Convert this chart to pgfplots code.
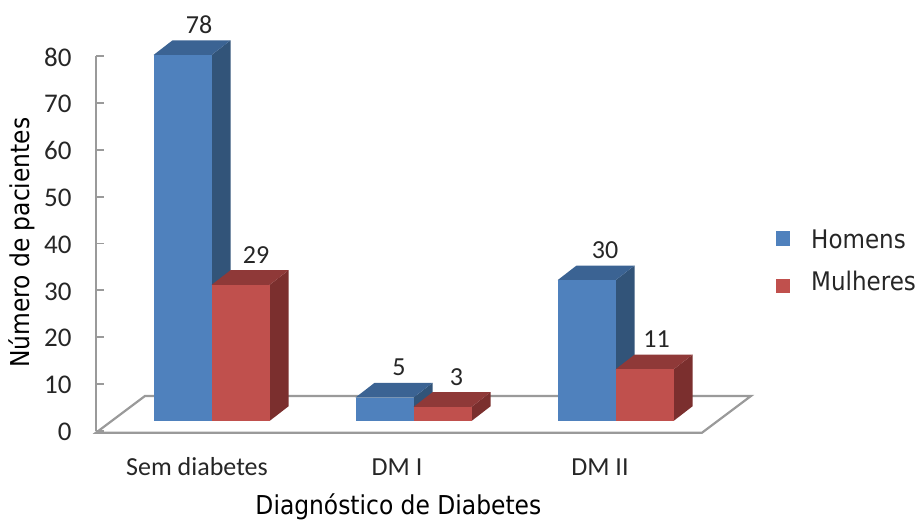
\documentclass[border=0pt]{standalone}
\usepackage{fontspec}
\usepackage{pgfplots}
\pgfplotsset{compat=1.18}
\setmainfont{Carlito}
\newfontfamily\tah{DejaVu Sans Condensed}
\definecolor{hfront}{HTML}{4F81BD}
\definecolor{hside}{HTML}{325479}
\definecolor{htop}{HTML}{3B6393}
\definecolor{mfront}{HTML}{C0504D}
\definecolor{mside}{HTML}{7B2F2E}
\definecolor{mtop}{HTML}{8F3938}
\definecolor{axisgray}{HTML}{9A9A9A}
\definecolor{txt}{HTML}{262626}

% One 3D bar: left edge, value, colour prefix, x of the value label
\newcommand\barthreed[4]{%
  \pgfmathsetmacro\xr{#1+58}%
  \pgfmathsetmacro\xd{#1+58+19}%
  \pgfmathsetmacro\xb{#1+19}%
  \pgfmathsetmacro\xc{#1+29}%
  \pgfmathsetmacro\vb{#2+3.13}%
  \pgfmathsetmacro\vl{#2+6.4}%
  \edef\temp{%
    \noexpand\addplot[fill=#3side,draw=none] coordinates {(\xr,0) (\xd,3.13) (\xd,\vb) (\xr,#2)} --cycle;
    \noexpand\addplot[fill=#3top,draw=none] coordinates {(#1,#2) (\xb,\vb) (\xd,\vb) (\xr,#2)} --cycle;
    \noexpand\addplot[ybar,bar width=58pt,bar shift=0pt,fill=#3front,draw=none] coordinates {(\xc,#2)};
    \noexpand\node[font=\noexpand\fontsize{26}{30}\noexpand\selectfont,text=txt] at (axis cs:#4,\vl) {#2};
  }\temp}

\begin{document}
\begin{tikzpicture}[x=1pt,y=1pt]
\path[use as bounding box] (0,0) rectangle (919,520);

% Value axis, category labels and axis titles
\begin{axis}[
  at={(96pt,89pt)},anchor=south west,
  scale only axis,width=606pt,height=375pt,
  xmin=96,xmax=702,ymin=0,ymax=80,
  axis y line*=left,axis x line*=bottom,
  axis line style={axisgray,line width=2.2pt,-},
  x axis line style={draw=none},
  ytick={0,10,...,80},
  y tick style={axisgray,line width=1.8pt},
  major tick length=8pt,
  xtick={197,397,600},
  xticklabels={Sem diabetes,DM I,DM II},
  x tick style={draw=none},
  /pgf/number format/assume math mode=true,
  yticklabel style={font=\fontsize{27}{30}\selectfont,text=txt,xshift=-21pt,yshift=-1pt},
  xticklabel style={font=\fontsize{26}{30}\selectfont,text=txt,anchor=center,yshift=-36pt},
  xlabel={Diagnóstico de Diabetes},
  xlabel style={font=\tah\fontsize{26}{30}\selectfont,at={(axis description cs:0.499,-0.2025)},anchor=center},
  ylabel={Número de pacientes},
  ylabel style={font=\tah\fontsize{26}{30}\selectfont,at={(axis description cs:-0.1218,0.502)},anchor=center},
]
\end{axis}

% Floor and bars on a canvas measured in the bars' own values
\begin{axis}[
  at={(0pt,0pt)},anchor=south west,
  scale only axis,width=919pt,height=520pt,
  xmin=0,xmax=919,ymin=-21.1,ymax=89.73,
  hide axis,clip=false,
  legend style={at={(776pt,290pt)},anchor=north west,draw=none,fill=none,inner sep=0pt,
    font=\tah\fontsize{25.6}{30}\selectfont,text=txt,row sep=21pt,
    legend cell align=left,
    nodes={inner xsep=0pt,inner ysep=0pt}},
]
\addplot[draw=axisgray,line width=2.2pt,fill=none,forget plot] coordinates {(96,-2.5) (702,-2.5) (751,5.33) (145,5.33)} --cycle;

\addlegendimage{legend image code/.code={\fill[hfront,draw=none] (0pt,-6pt) rectangle (14pt,9pt);\path[draw=none] (14pt,0) -- (35pt,0);}}
\addlegendentry{Homens}
\addlegendimage{legend image code/.code={\fill[mfront,draw=none] (0pt,-11pt) rectangle (14pt,3pt);\path[draw=none] (14pt,0) -- (35pt,0);}}
\addlegendentry{Mulheres}

\pgfplotsset{every axis plot/.append style={forget plot}}
\barthreed{153.5}{78}{h}{199}
\barthreed{211.5}{29}{m}{256}
\barthreed{355.5}{5}{h}{399}
\barthreed{413.5}{3}{m}{456.5}
\barthreed{557.5}{30}{h}{605}
\barthreed{615.5}{11}{m}{656.5}
\end{axis}
\end{tikzpicture}
\end{document}
